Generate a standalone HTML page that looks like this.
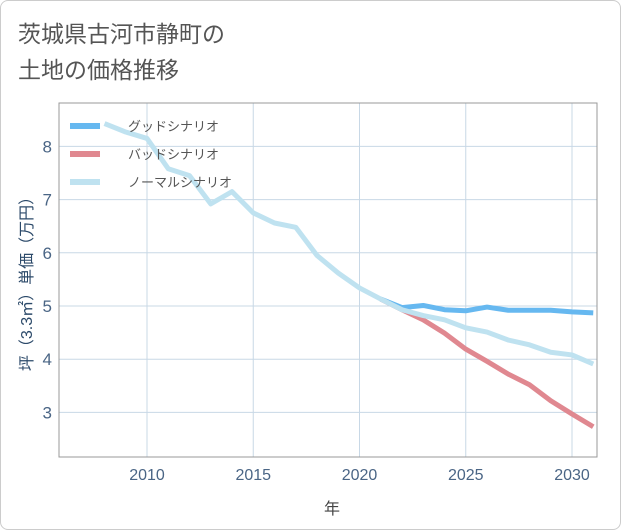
<!DOCTYPE html>
<html><head><meta charset="utf-8"><style>
body{margin:0;background:#fff;font-family:"Liberation Sans","Noto Sans CJK JP",sans-serif;}
#wrap{position:relative;width:619px;height:528px;border:1px solid #ccc;border-radius:8px;overflow:hidden;background:#fff}
</style></head><body>
<div id="wrap">
<svg id="chart" width="621" height="530" style="position:absolute;left:-1px;top:-1px">
<text x="18" y="42" font-size="23" fill="#555">茨城県古河市静町の</text>
<text x="18" y="78" font-size="23" fill="#555">土地の価格推移</text>
<defs><clipPath id="pc"><rect x="59" y="103" width="538" height="354"/></clipPath></defs>
<g id="grid"></g>
<rect x="59" y="103" width="538" height="354" fill="none" stroke="#999" stroke-width="1"/>
<g id="series" clip-path="url(#pc)"></g>
<g id="legend"></g>
<text x="332" y="514" font-size="16" fill="#444" text-anchor="middle">年</text>
<text transform="translate(32,280) rotate(-90)" font-size="16" fill="#2c4a6a" text-anchor="middle">坪（3.3㎡）単価（万円）</text>
</svg>
</div>
<script>
const normalYears=[2008,2009,2010,2011,2012,2013,2014,2015,2016,2017,2018,2019,2020,2021,2022,2023,2024,2025,2026,2027,2028,2029,2030,2031];
const normalValues=[8.43,8.27,8.15,7.58,7.45,6.92,7.15,6.75,6.56,6.48,5.95,5.62,5.34,5.13,4.93,4.82,4.74,4.59,4.51,4.36,4.27,4.13,4.08,3.91];
const scenarioYears=[2021,2022,2023,2024,2025,2026,2027,2028,2029,2030,2031];
const goodValues=[5.13,4.97,5.01,4.93,4.91,4.98,4.92,4.92,4.92,4.89,4.87];
const badValues=[5.13,4.93,4.74,4.49,4.19,3.96,3.72,3.52,3.22,2.97,2.73];
const xTicks=[2010,2015,2020,2025,2030];
const yTicks=[3,4,5,6,7,8];
const ns='http://www.w3.org/2000/svg';
const X=y=>147+(y-2010)*21.25;
const Y=v=>306-(v-5)*53.2;
const grid=document.getElementById('grid'),ser=document.getElementById('series'),leg=document.getElementById('legend');
function mk(tag,at,parent){const e=document.createElementNS(ns,tag);for(const k in at)e.setAttribute(k,at[k]);parent.appendChild(e);return e;}
xTicks.forEach(t=>{
 const l=mk('line',{x1:X(t),x2:X(t),y1:103,y2:457,stroke:'#c8d8e6','stroke-width':1},grid);
 
 
 const tx=mk('text',{x:X(t),y:480,'font-size':16,fill:'#4a6585','text-anchor':'middle'},grid);
 tx.textContent=t;
 
 
});
yTicks.forEach(t=>{
 const l=mk('line',{x1:59,x2:597,y1:Y(t),y2:Y(t),stroke:'#c8d8e6','stroke-width':1},grid);
 
 
 const tx=mk('text',{x:52,y:Y(t)+6,'font-size':17,fill:'#4a6585','text-anchor':'end'},grid);
 tx.textContent=t;
 
 
});
function line(xs,vs,color,name){
 const p=mk('polyline',{points:xs.map((y,i)=>X(y)+','+Y(vs[i])).join(' '),fill:'none',stroke:color,'stroke-width':5,'stroke-linejoin':'round'},ser);
 
 
}
line(scenarioYears,badValues,'#e08890','bad-scenario-line');
line(scenarioYears,goodValues,'#66b8f0','good-scenario-line');
line(normalYears,normalValues,'#bfe2f0','normal-scenario-line');
[['グッドシナリオ','#66b8f0',126,'legend-good'],['バッドシナリオ','#e08890',154,'legend-bad'],['ノーマルシナリオ','#bfe2f0',182,'legend-normal']].forEach(([t,c,y,n])=>{
 const g=mk('g',{},leg);
 
 
 mk('line',{x1:70,x2:100,y1:y,y2:y,stroke:c,'stroke-width':6},g);
 const tx=mk('text',{x:128,y:y+5,'font-size':13,fill:'#555'},g);
 tx.textContent=t;
});
</script>
</body></html>
